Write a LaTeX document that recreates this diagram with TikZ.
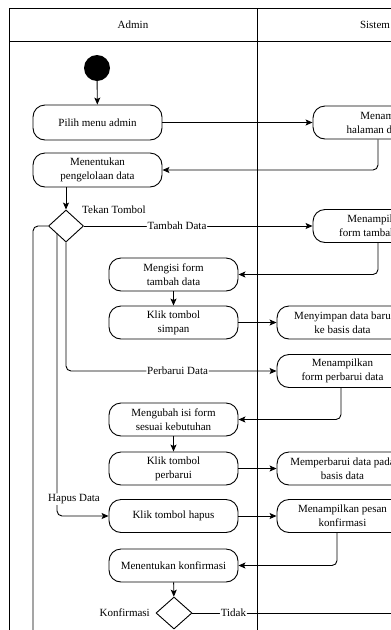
\documentclass[tikz,border=0pt]{standalone}
\usepackage{fontspec}
\setmainfont{Liberation Serif}
\usetikzlibrary{arrows.meta,shapes.geometric,calc}
\begin{document}
\begin{tikzpicture}[x=1pt,y=-1pt,
  every node/.style={font=\fontsize{11}{14}\selectfont, inner sep=0pt},
  act/.style={draw, rounded corners=12pt, minimum width=129pt, minimum height=33pt, align=center, line width=0.9pt},
  sact/.style={act, minimum width=131pt},
  dec/.style={draw, diamond, minimum width=35pt, minimum height=32pt, line width=0.9pt},
  arr/.style={-{Stealth[length=7pt,width=6pt,inset=1.5pt]}, line width=0.9pt, rounded corners=5pt},
  plain/.style={line width=0.9pt, rounded corners=5pt},
  lbl/.style={fill=white, inner sep=1pt},
  frame/.style={line width=0.9pt}
]
\useasboundingbox (0,0) rectangle (391,630);
\clip (0,0) rectangle (391,630);

% swimlane frame
\draw[frame] (9,8) rectangle (520,700);
\draw[frame] (9,41) -- (520,41);
\draw[frame] (257,8) -- (257,700);
\node (hadmin) at (133,25) {Admin};
\node (hsistem) at (375,25) {Sistem};

% nodes
\node[circle, fill=black, minimum size=26pt] (start) at (97,68) {};
\node[act, minimum height=35pt] (pilih) at (97.5,122.5) {Pilih menu admin};
\node[act, minimum height=34pt] (tentukan) at (97.5,170) {Menentukan\\pengelolaan data};
\node[act, minimum width=156pt] (menam) at (391,122.5) {Menampilkan\\halaman data admin};
\node[dec] (d1) at (66,226) {};
\node[anchor=west] (tt) at (82,210) {Tekan Tombol};
\node[act, minimum width=130pt] (ftambah) at (378,226) {Menampilkan\\form tambah data};
\node[act] (mengisi) at (173.5,274.5) {Mengisi form\\tambah data};
\node[act] (simpan) at (173.5,322.5) {Klik tombol\\simpan};
\node[sact] (menyimpan) at (342.5,322.5) {Menyimpan data baru\\ke basis data};
\node[sact] (fperbarui) at (342.5,371) {Menampilkan\\form perbarui data};
\node[act] (mengubah) at (173.5,419.5) {Mengubah isi form\\sesuai kebutuhan};
\node[act] (kperbarui) at (173.5,468.5) {Klik tombol\\perbarui};
\node[sact] (memperbarui) at (342.5,468.5) {Memperbarui data pada\\basis data};
\node[act] (hapus) at (173.5,516) {Klik tombol hapus};
\node[sact] (pesan) at (342.5,516) {Menampilkan pesan\\konfirmasi};
\node[act] (konf) at (173.5,565.5) {Menentukan konfirmasi};
\node[dec, minimum width=36pt] (d2) at (174,613) {};
\node[anchor=east] (kl) at (150,613) {Konfirmasi};
\coordinate (tidakend) at (420,613);
\coordinate (loopend) at (33,660);

% connectors
\draw[arr] (start) -- (pilih);
\draw[arr] (pilih.east) -- (menam.west);
\draw[arr] ([xshift=-13pt]menam.south) |- (tentukan.east);
\draw[arr] (d1.north |- tentukan.south) -- (d1.north);
\draw[arr] (d1.east) -- node[lbl, pos=0.407] {Tambah Data} (ftambah.west);
\draw[arr] (ftambah.south) |- (mengisi.east);
\draw[arr] (mengisi) -- (simpan);
\draw[arr] (simpan) -- (menyimpan);
\draw[arr] (d1.south) |- node[lbl, pos=0.765] {Perbarui Data} (fperbarui.west);
\draw[arr] ([xshift=-1.5pt]fperbarui.south) |- (mengubah.east);
\draw[arr] (mengubah) -- (kperbarui);
\draw[arr] (kperbarui) -- (memperbarui);
\draw[arr] (d1.south west) |- node[lbl, pos=0.47, xshift=17pt] {Hapus Data} (hapus.west);
\draw[arr] (hapus) -- (pesan);
\draw[arr] ([xshift=-5.5pt]pesan.south) |- (konf.east);
\draw[arr] (konf) -- (d2);
\draw[plain] (d2.east) -- node[lbl, pos=0.18] {Tidak} (tidakend);
\draw[plain] (d1.west) -| (loopend);
\end{tikzpicture}
\end{document}
